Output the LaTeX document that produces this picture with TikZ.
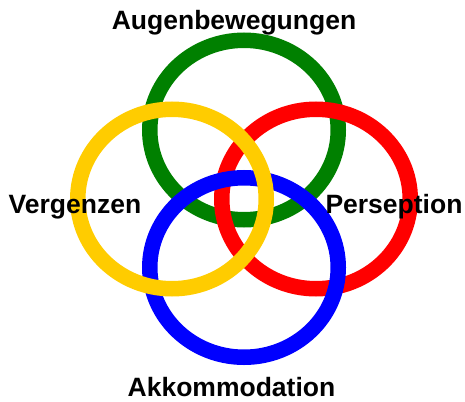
\documentclass[tikz,border=0pt]{standalone}
\usepackage{fontspec}
\setmainfont{Liberation Sans}
\usepackage{tikz}
\usetikzlibrary{positioning}
\definecolor{ringgreen}{HTML}{008000}
\definecolor{ringred}{HTML}{FF0000}
\definecolor{ringblue}{HTML}{0000FF}
\definecolor{ringyellow}{HTML}{FFCC00}
\tikzset{
  ring/.style={line width=15.5pt},
  ringlabel/.style={font=\fontsize{26.5pt}{30pt}\selectfont\bfseries,inner sep=0pt,anchor=base}
}

\begin{document}
\begin{tikzpicture}[x=1pt,y=-1pt]
  \useasboundingbox (0,0) rectangle (465,401);
  % rings, back to front
  \draw[ring,ringgreen] (244,130) ellipse [x radius=94.25pt,y radius=89.75pt];
  \draw[ring,ringred] (316,199) ellipse [x radius=94.25pt,y radius=89.75pt];
  \draw[ring,ringblue] (244,267.5) ellipse [x radius=94.25pt,y radius=89.75pt];
  \draw[ring,ringyellow] (172,199) ellipse [x radius=94.25pt,y radius=89.75pt];
  % labels
  \node[ringlabel] (augen) at (234,30) {Augenbewegungen};
  \node[ringlabel] (vergenz) at (75,213) {Vergenzen};
  \node[ringlabel] (persep) at (394,213) {Perseption};
  \node[ringlabel] (akkom) at (231.5,396) {Akkommodation};
\end{tikzpicture}
\end{document}
